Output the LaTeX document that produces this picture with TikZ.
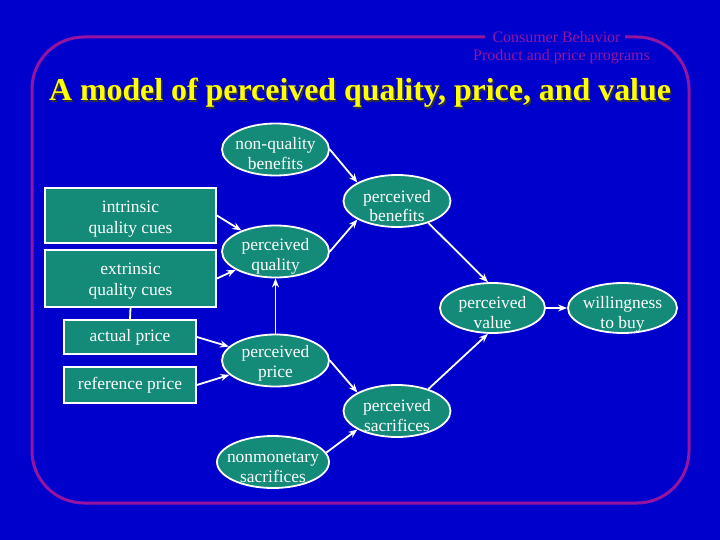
\documentclass[tikz,border=0pt]{standalone}
\usepackage{fontspec}
\setmainfont{Liberation Serif}
\usetikzlibrary{arrows.meta,shapes.geometric}
\definecolor{bgblue}{RGB}{0,0,204}
\definecolor{tealfill}{RGB}{20,138,120}
\definecolor{framepurple}{RGB}{150,20,160}
\definecolor{titleyellow}{RGB}{255,255,0}
% two centred lines; the last baseline lies #1 below the node centre
\newcommand\twolines[3][20bp]{\raisebox{-#1}[0pt][0pt]{\vbox{\hbox to 0pt{\hss#2\hss}\hbox to 0pt{\hss#3\hss}}}}
\begin{document}
\begin{tikzpicture}[x=1bp,y=-1bp,
  cue/.style={draw=white, line width=1.8bp, fill=tealfill, text=white,
    inner sep=0pt, font=\fontsize{17.5}{21}\selectfont},
  oval/.style={ellipse, draw=white, line width=1.8bp, fill=tealfill, text=white,
    inner sep=0pt, minimum width=107bp, minimum height=52bp, font=\fontsize{17.5}{20}\selectfont},
  link/.style={draw=white, line width=1.8bp, -{Stealth[length=9bp,width=7bp]}},
  plainlink/.style={draw=white, line width=1.8bp},
  header/.style={text=framepurple, font=\fontsize{16}{18}\selectfont, anchor=base, inner sep=0pt}]
\fill[bgblue] (0,0) rectangle (720,540);
\useasboundingbox (0,0) rectangle (720,540);
% frame
\draw[framepurple, line width=3bp, rounded corners=52bp]
  (485,37) -- (32,37) -- (32,503) -- (689,503) -- (689,37) -- (625,37);
\node[header] (h1) at (556.5,43) {Consumer Behavior};
\node[header] (h2) at (561.5,61) {Product and price programs};
% title
\node[text=black!80, font=\bfseries\fontsize{32}{36}\selectfont, inner sep=0pt] (tshadow) at (361.5,94.5)
  {A model of perceived quality, price, and value};
\node[text=titleyellow, font=\bfseries\fontsize{32}{36}\selectfont, inner sep=0pt] (title) at (360,93)
  {A model of perceived quality, price, and value};
% cue boxes
\node[cue, minimum width=171bp, minimum height=55bp] (intr) at (130.5,215.5) {\twolines[18bp]{intrinsic}{quality cues}};
\node[cue, minimum width=171bp, minimum height=57bp] (extr) at (130.5,278.5) {\twolines[17bp]{extrinsic}{quality cues}};
\node[cue, minimum width=132bp, minimum height=34bp] (ap) at (130,337) {actual price};
\node[cue, minimum width=132bp, minimum height=36bp] (rp) at (130,385) {reference price};
% ovals
\node[oval] (nqb) at (275.5,149.5) {\twolines{non-quality}{benefits}};
\node[oval] (pb) at (397,201) {\twolines[21bp]{perceived}{benefits}};
\node[oval] (pq) at (275.5,251.5) {\twolines[19bp]{perceived}{quality}};
\node[oval] (pp) at (275.5,360.5) {\twolines[17bp]{perceived}{price}};
\node[oval] (ps) at (397,411) {\twolines{perceived}{sacrifices}};
\node[oval, minimum width=112bp] (nms) at (273,462) {\twolines{nonmonetary}{sacrifices}};
\node[oval, minimum width=105bp, minimum height=50bp] (pv) at (492.5,308) {\twolines{perceived}{value}};
\node[oval, minimum width=109bp, minimum height=50bp] (wtb) at (622.5,308) {\twolines{willingness}{to buy}};
% connectors
\draw[plainlink] (extr.south) -- (ap.north);
\draw[link] (intr.east) -- (pq);
\draw[link] (extr.east) -- (pq);
\draw[link] (ap.east) -- (pp);
\draw[link] (rp.east) -- (pp);
\draw[link] (pp.north) -- (pq.south);
\draw[link] (nqb.east) -- (pb.155);
\draw[link] (pq.east) -- (pb.205);
\draw[link] (pb.-35) -- (pv.100);
\draw[link] (pp.east) -- (ps.155);
\draw[link] (nms.10) -- (ps.205);
\draw[link] (ps.35) -- (pv.260);
\draw[link] (pv.east) -- (wtb.west);
\end{tikzpicture}
\end{document}
